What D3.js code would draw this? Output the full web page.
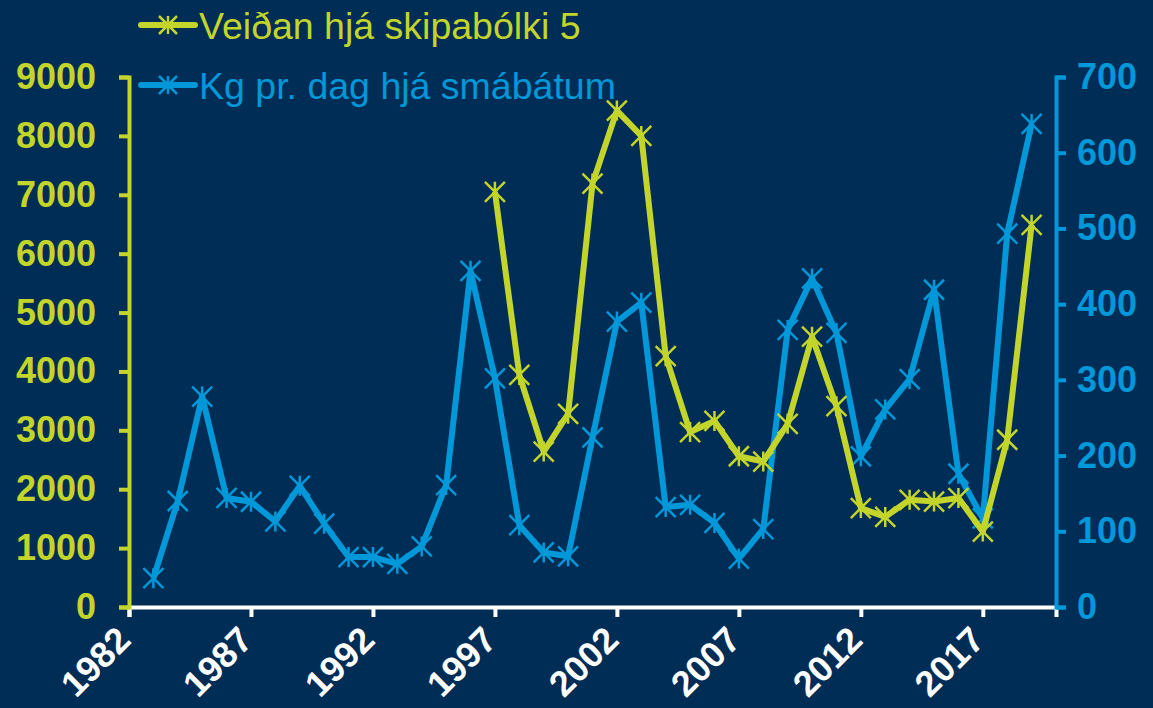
<!DOCTYPE html>
<html>
<head>
<meta charset="utf-8">
<script src="https://cdn.jsdelivr.net/npm/d3@7"></script>
<style>
  body { margin: 0; background: #002d56; }
  svg { display: block; font-family: "Liberation Sans", Arial, sans-serif; }
</style>
</head>
<body>
<div id="chart"></div>
<script>
// catch of group 5 (left axis)
var catchYears = d3.range(1997, 2020);
var catchValues = [7050, 3940, 2640, 3280, 7190, 8430, 8000, 4260, 2970, 3160, 2560, 2470,
                   3110, 4590, 3410, 1680, 1530, 1820, 1790, 1850, 1280, 2840, 6490];

// kg per day, small boats (right axis)
var kgYears = d3.range(1983, 2020);
var kgValues = [38, 140, 278, 144, 139, 113, 160, 110, 66, 66, 57, 80, 161, 444, 302, 108, 72, 67,
                224, 377, 402, 132, 135, 111, 64, 103, 366, 434, 362, 199, 261, 301, 419, 176, 117, 493, 638];

var xTicks = [1982, 1987, 1992, 1997, 2002, 2007, 2012, 2017];
var leftTicks = d3.range(0, 9001, 1000);
var rightTicks = d3.range(0, 701, 100);

var seriesNames = ["Veiðan hjá skipabólki 5", "Kg pr. dag hjá smábátum"];

var width = 1153, height = 708;
var green = "#c3d52a", blue = "#0098d8";
var margin = {top: 77, bottom: 101, left: 129, right: 97};

var svg = d3.select("#chart").append("svg")
    .attr("width", width)
    .attr("height", height);

svg.append("rect").attr("width", width).attr("height", height).attr("fill", "#002d56");

var x = d3.scaleLinear().domain([1982, 2020]).range([margin.left, width - margin.right]);
var yLeft = d3.scaleLinear().domain([0, 9000]).range([height - margin.bottom, margin.top]);
var yRight = d3.scaleLinear().domain([0, 700]).range([height - margin.bottom, margin.top]);

// asterisk marker
function star(s) {
    return "M" + (-s) + "," + (-s) + "L" + s + "," + s +
           "M" + (-s) + "," + s + "L" + s + "," + (-s) +
           "M0," + (-s) + "L0," + s;
}

// x axis
var xAxis = svg.append("g")
    .attr("transform", "translate(0," + (height - margin.bottom) + ")")
    .call(d3.axisBottom(x).tickValues(xTicks).tickFormat(d3.format("d")).tickSizeOuter(0).tickSize(10));
xAxis.select(".domain").attr("stroke", "#ffffff").attr("stroke-width", 4);
xAxis.selectAll(".tick line").attr("stroke", "#ffffff").attr("stroke-width", 4);
xAxis.selectAll(".tick text")
    .attr("fill", "#ffffff")
    .attr("font-size", 36)
    .attr("font-weight", "bold")
    .attr("text-anchor", "end")
    .attr("dy", 0)
    .attr("transform", "translate(-6,26) rotate(-45)");

// left axis
var leftAxis = svg.append("g")
    .attr("transform", "translate(" + margin.left + ",0)")
    .call(d3.axisLeft(yLeft).tickValues(leftTicks).tickFormat(d3.format("d")).tickSizeOuter(0).tickSize(10).tickPadding(23));
leftAxis.select(".domain").attr("stroke", green).attr("stroke-width", 4);
leftAxis.selectAll(".tick line").attr("stroke", green).attr("stroke-width", 4);
leftAxis.selectAll(".tick text")
    .attr("fill", green)
    .attr("font-size", 36)
    .attr("font-weight", "bold");

// right axis
var rightAxis = svg.append("g")
    .attr("transform", "translate(" + (width - margin.right) + ",0)")
    .call(d3.axisRight(yRight).tickValues(rightTicks).tickFormat(d3.format("d")).tickSizeOuter(0).tickSize(10).tickPadding(11));
rightAxis.select(".domain").attr("stroke", blue).attr("stroke-width", 4);
rightAxis.selectAll(".tick line").attr("stroke", blue).attr("stroke-width", 4);
rightAxis.selectAll(".tick text")
    .attr("fill", blue)
    .attr("font-size", 36)
    .attr("font-weight", "bold");

// lines
var kgData = kgYears.map(function(d, i) { return {year: d, value: kgValues[i]}; });
var catchData = catchYears.map(function(d, i) { return {year: d, value: catchValues[i]}; });

var kgLine = d3.line().x(function(d) { return x(d.year); }).y(function(d) { return yRight(d.value); });
var catchLine = d3.line().x(function(d) { return x(d.year); }).y(function(d) { return yLeft(d.value); });

svg.append("path").datum(kgData)
    .attr("d", kgLine)
    .attr("fill", "none")
    .attr("stroke", blue)
    .attr("stroke-width", 6)
    .attr("stroke-linejoin", "round");

svg.selectAll(".kgmark").data(kgData).enter().append("path")
    .attr("class", "kgmark")
    .attr("transform", function(d) { return "translate(" + x(d.year) + "," + yRight(d.value) + ")"; })
    .attr("d", star(10))
    .attr("stroke", blue)
    .attr("stroke-width", 2.5)
    .attr("fill", "none");

svg.append("path").datum(catchData)
    .attr("d", catchLine)
    .attr("fill", "none")
    .attr("stroke", green)
    .attr("stroke-width", 6)
    .attr("stroke-linejoin", "round");

svg.selectAll(".catchmark").data(catchData).enter().append("path")
    .attr("class", "catchmark")
    .attr("transform", function(d) { return "translate(" + x(d.year) + "," + yLeft(d.value) + ")"; })
    .attr("d", star(10))
    .attr("stroke", green)
    .attr("stroke-width", 2.5)
    .attr("fill", "none");

// legend
var legend = svg.selectAll(".legend")
    .data([{name: seriesNames[0], color: green}, {name: seriesNames[1], color: blue}])
    .enter().append("g")
    .attr("class", "legend")
    .attr("transform", function(d, i) { return "translate(141," + (25 + i * 60) + ")"; });

legend.append("line")
    .attr("x1", 0).attr("x2", 54)
    .attr("stroke", function(d) { return d.color; })
    .attr("stroke-width", 6)
    .attr("stroke-linecap", "round");
legend.append("path")
    .attr("transform", "translate(27,0)")
    .attr("d", star(9))
    .attr("stroke", function(d) { return d.color; })
    .attr("stroke-width", 2.5);
legend.append("text")
    .attr("x", 58)
    .attr("y", 14)
    .attr("fill", function(d) { return d.color; })
    .attr("font-size", 37.5)
    .text(function(d) { return d.name; });
</script>
</body>
</html>
